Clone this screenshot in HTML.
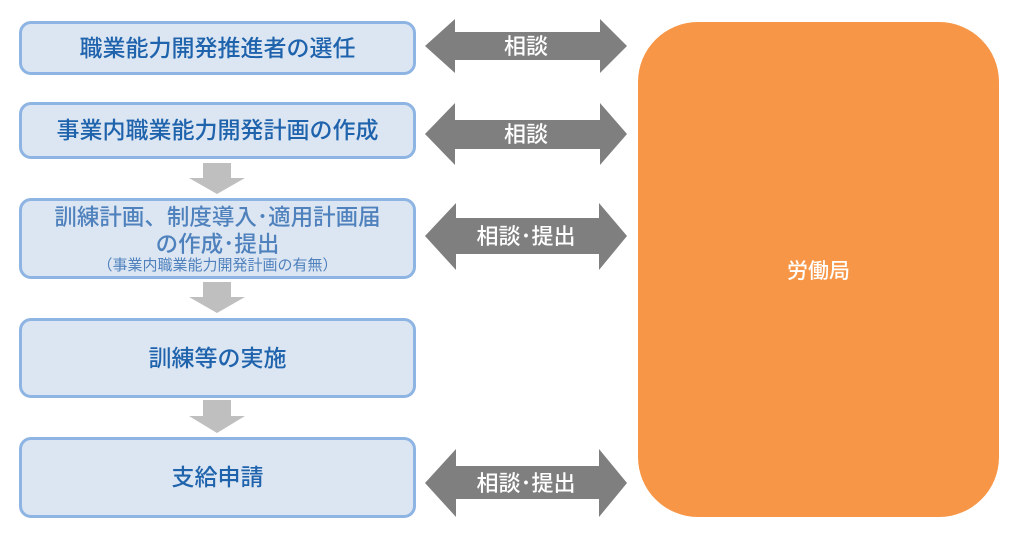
<!DOCTYPE html>
<html><head><meta charset="utf-8"><style>
body{margin:0;width:1026px;height:535px;background:#fff;position:relative;overflow:hidden;font-family:"Liberation Sans","Noto Sans CJK JP",sans-serif;}
.b{position:absolute;left:19px;background:#dce6f2;border:3px solid #8eb4e3;border-radius:12px;color:#1f63ad;font-size:23px;font-weight:500;display:flex;flex-direction:column;align-items:center;justify-content:center;text-align:center;line-height:1.25;box-sizing:border-box;width:397px}
.o{position:absolute;left:638px;top:22px;width:361px;height:495px;background:#f79646;border-radius:60px;color:#fff;font-size:21px;font-weight:500;display:flex;align-items:center;justify-content:center}
svg{position:absolute;left:0;top:0}
</style></head><body>
<div class="b" style="top:21px;height:54px">職業能力開発推進者の選任</div>
<div class="b" style="top:102px;height:57px">事業内職業能力開発計画の作成</div>
<div class="b" style="top:198px;height:81px;color:#4f81bd;line-height:1.2;font-size:22.5px"><span>訓練計画、制度導入･適用計画届<br>の作成･提出</span><span style="font-size:15px;font-weight:normal;line-height:1">（事業内職業能力開発計画の有無）</span></div>
<div class="b" style="top:318px;height:80px">訓練等の実施</div>
<div class="b" style="top:437px;height:81px">支給申請</div>
<div class="o">労働局</div>
<svg width="1026" height="535">
<g fill="#bfbfbf">
<polygon points="203,163 231,163 231,178 245,178 217,194 189,178 203,178"/>
<polygon points="203,282 231,282 231,297 245,297 217,313 189,297 203,297"/>
<polygon points="203,400 231,400 231,416 245,416 217,433 189,416 203,416"/>
</g>
<g fill="#7f7f7f">
<polygon points="425,46 455,19 455,32 600,32 600,19 627,46 600,73 600,60 455,60 455,73"/>
<polygon points="425,134 455,103 455,120 600,120 600,103 627,134 600,165 600,149 455,149 455,165"/>
<polygon points="425,236 456,203 456,218 599,218 599,203 627,236 599,270 599,254 456,254 456,270"/>
<polygon points="425,483 456,449 456,466 599,466 599,449 627,483 599,517 599,499 456,499 456,517"/>
</g>
<g fill="#fff" font-size="22" font-weight="500" text-anchor="middle" font-family="Liberation Sans, Noto Sans CJK JP, sans-serif">
<text x="526" y="54">相談</text>
<text x="526" y="142">相談</text>
<text x="526" y="244">相談･提出</text>
<text x="526" y="491">相談･提出</text>
</g>
</svg>
</body></html>
